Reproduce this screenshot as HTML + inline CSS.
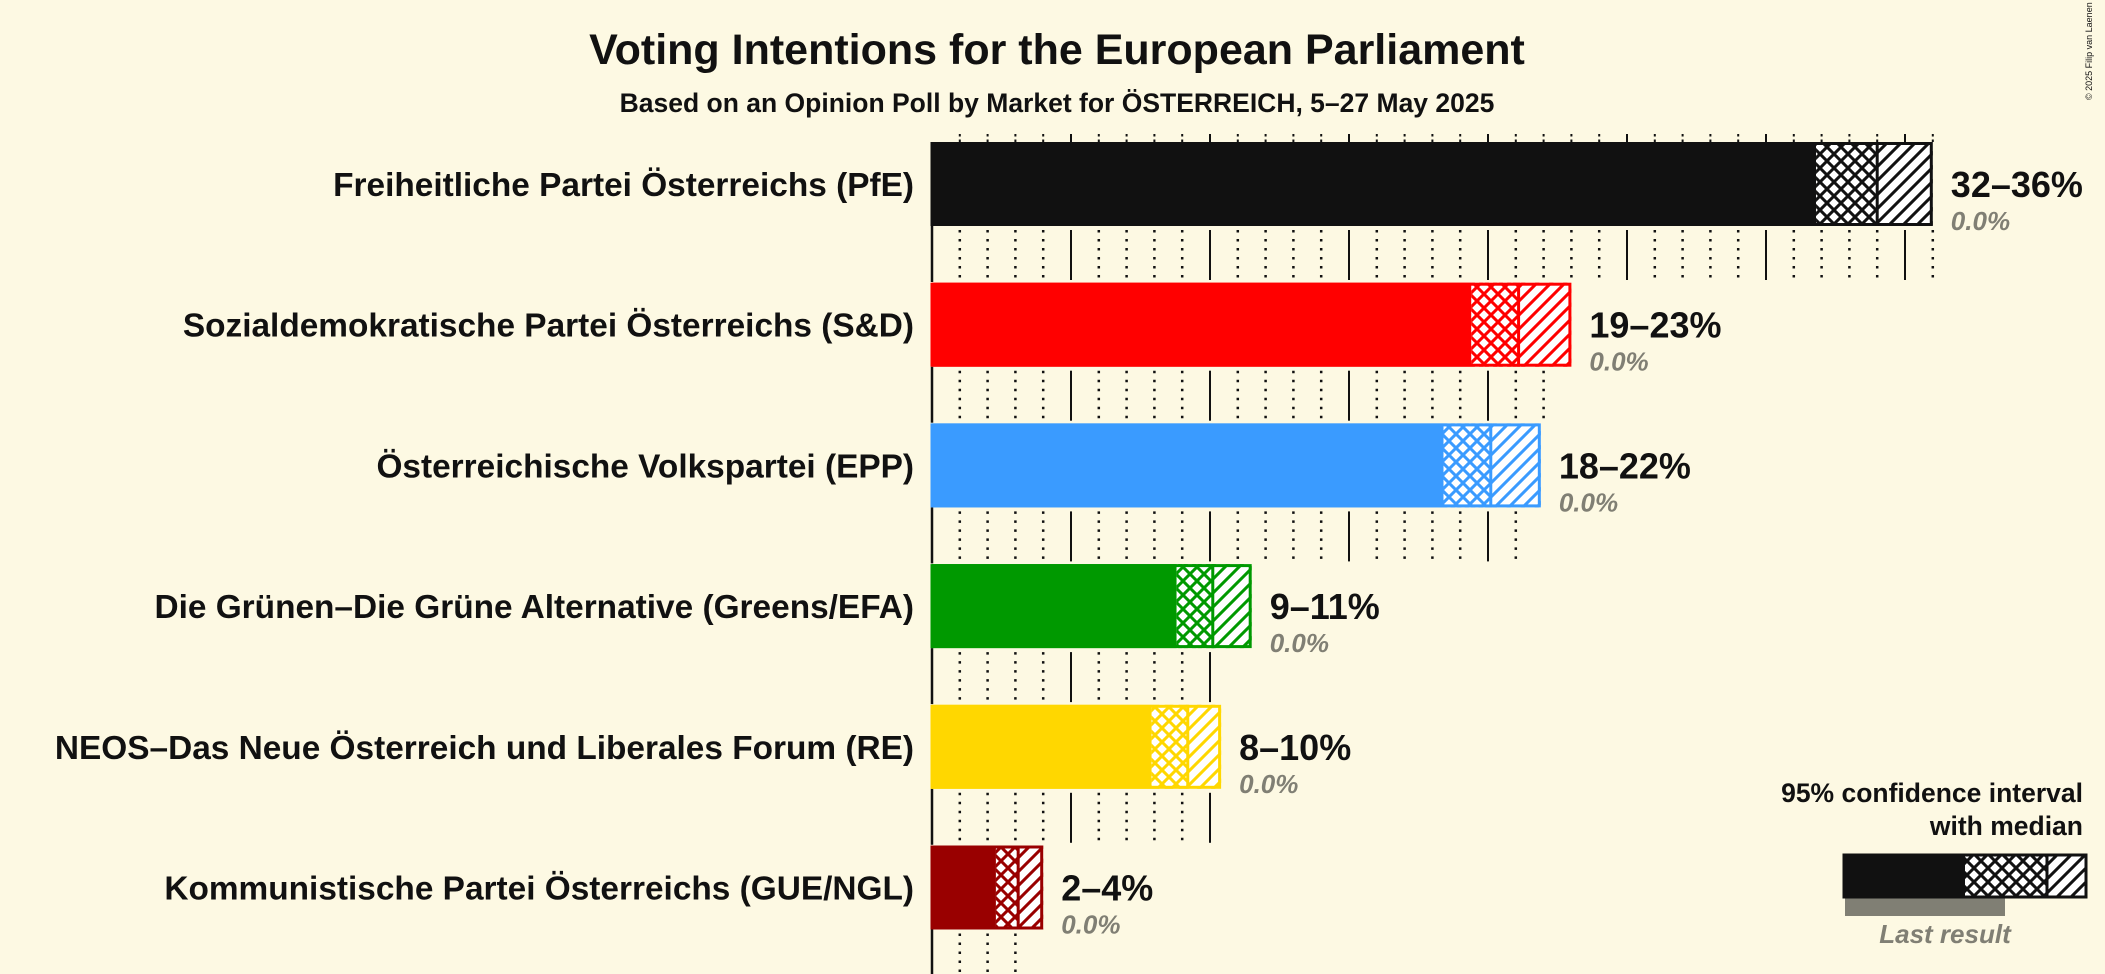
<!DOCTYPE html>
<html><head><meta charset="utf-8"><style>
html,body{margin:0;padding:0;background:#FDF9E3;}
svg{display:block;font-family:"Liberation Sans",sans-serif;}
</style></head><body>
<svg id="chart" width="2105" height="974" viewBox="0 0 2105 974">
<rect width="2105" height="974" fill="#FDF9E3"/>
<defs id="defs"></defs>
<text x="1057" y="64" text-anchor="middle" font-size="43" font-weight="bold" fill="#111">Voting Intentions for the European Parliament</text>
<text x="1057" y="112" text-anchor="middle" font-size="26.5" font-weight="bold" fill="#111">Based on an Opinion Poll by Market for ÖSTERREICH, 5–27 May 2025</text>
<text transform="translate(2092,100) rotate(-90)" font-size="9" fill="#111">© 2025 Filip van Laenen</text>
<g id="grid"></g>
<g id="bars"></g>
<g id="legend">
<text x="2083" y="802" text-anchor="end" font-size="26.5" font-weight="bold" fill="#111">95% confidence interval</text>
<text x="2083" y="835" text-anchor="end" font-size="26.5" font-weight="bold" fill="#111">with median</text>
<rect x="1845" y="898" width="160" height="18" fill="#807F74"/>
<rect x="1844" y="855" width="121" height="42" fill="#111"/>
<rect x="1965" y="855" width="82" height="42" fill="url(#cross-0)"/>
<rect x="2047" y="855" width="39" height="42" fill="url(#hatch-0)"/>
<rect x="1844" y="855" width="242" height="42" fill="none" stroke="#111" stroke-width="3"/>
<line x1="2047" y1="855" x2="2047" y2="897" stroke="#111" stroke-width="3"/>
<text x="1945" y="943" text-anchor="middle" font-size="26" font-style="italic" font-weight="bold" fill="#807F74">Last result</text>
</g>
</svg>
<script>
const parties = ["Freiheitliche Partei Österreichs (PfE)","Sozialdemokratische Partei Österreichs (S&D)","Österreichische Volkspartei (EPP)","Die Grünen–Die Grüne Alternative (Greens/EFA)","NEOS–Das Neue Österreich und Liberales Forum (RE)","Kommunistische Partei Österreichs (GUE/NGL)"];
const lowValues = [31.8, 19.4, 18.4, 8.8, 7.9, 2.3];
const medianValues = [34.0, 21.1, 20.1, 10.1, 9.2, 3.1];
const highValues = [36.0, 23.0, 21.9, 11.5, 10.4, 4.0];
const lastResults = [0.0, 0.0, 0.0, 0.0, 0.0, 0.0];
const rangeLabels = ["32–36%","19–23%","18–22%","9–11%","8–10%","2–4%"];
const gridMax = [36, 22, 21, 10, 10, 3];
const colors = ["#111111","#FF0000","#3A9BFF","#009900","#FFD700","#990000"];

const NS="http://www.w3.org/2000/svg";
const X0=932, PX=27.8, TOP0=142, ROW=140.7, BH=84;
const x = v => X0 + v*PX;
const yTop = i => TOP0 + i*ROW;
function mk(tag, attrs, parent){const e=document.createElementNS(NS,tag);for(const k in attrs)e.setAttribute(k,attrs[k]);parent.appendChild(e);return e;}
const defs=document.getElementById('defs'), grid=document.getElementById('grid'), bars=document.getElementById('bars');
colors.forEach((c,i)=>{
  const p=mk('pattern',{id:'cross-'+i,patternUnits:'userSpaceOnUse',width:14,height:14},defs);
  mk('rect',{width:14,height:14,fill:'#fff'},p);
  mk('path',{d:'M0,0L14,14M14,0L0,14M-7,7L7,21M7,-7L21,7M7,21L21,7M-7,7L7,-7',stroke:c,'stroke-width':3},p);
  const h=mk('pattern',{id:'hatch-'+i,patternUnits:'userSpaceOnUse',width:14,height:14},defs);
  mk('rect',{width:14,height:14,fill:'#fff'},h);
  mk('path',{d:'M0,14L14,0M-7,7L7,-7M7,21L21,7',stroke:c,'stroke-width':3},h);
});
parties.forEach((name,i)=>{
  const t=yTop(i), b=t+BH;
  for(let v=1; v<=gridMax[i]; v++){
    const l=mk('line',{x1:x(v),x2:x(v),y1:b+4,y2:b+54,stroke:'#111','stroke-width':v%5===0?2:2.5,'stroke-dasharray':v%5===0?'none':'2.5 6.5'},grid);
    
    
  }
  const ax=mk('line',{x1:X0,x2:X0,y1:b,y2:b+56,stroke:'#111','stroke-width':2.5},grid);
  
  
  const g=mk('g',{},bars);
  
  
  const c=colors[i];
  const s=mk('rect',{x:X0,y:t,width:x(lowValues[i])-X0,height:BH,fill:c},g);
  
  
  const cr=mk('rect',{x:x(lowValues[i]),y:t,width:x(medianValues[i])-x(lowValues[i]),height:BH,fill:'url(#cross-'+i+')'},g);
  
  
  const ht=mk('rect',{x:x(medianValues[i]),y:t,width:x(highValues[i])-x(medianValues[i]),height:BH,fill:'url(#hatch-'+i+')'},g);
  
  
  const o=mk('rect',{x:X0,y:t+1.5,width:x(highValues[i])-X0-1.5,height:BH-3,fill:'none',stroke:c,'stroke-width':3},g);
  
  
  const m=mk('line',{x1:x(medianValues[i]),x2:x(medianValues[i]),y1:t,y2:b,stroke:c,'stroke-width':3},g);
  
  
  const nl=mk('text',{x:914,y:t+BH/2+12,'text-anchor':'end','font-size':33.4,'font-weight':'bold',fill:'#111'},g);
  nl.textContent=name;
  
  
  const rl=mk('text',{x:x(highValues[i])+18,y:t+BH/2+13,'font-size':36,'font-weight':'bold',fill:'#111'},g);
  rl.textContent=rangeLabels[i];
  
  
  const ll=mk('text',{x:x(highValues[i])+18,y:t+BH/2+46,'font-size':26,'font-style':'italic','font-weight':'bold',fill:'#807F74'},g);
  ll.textContent=lastResults[i].toFixed(1)+'%';
  
  
});
for(let v=1; v<=36; v++){
  const l=mk('line',{x1:x(v),x2:x(v),y1:134,y2:142,stroke:'#111','stroke-width':2,'stroke-dasharray':v%5===0?'none':'2.5 3'},grid);
  
  
}
</script>
</body></html>
